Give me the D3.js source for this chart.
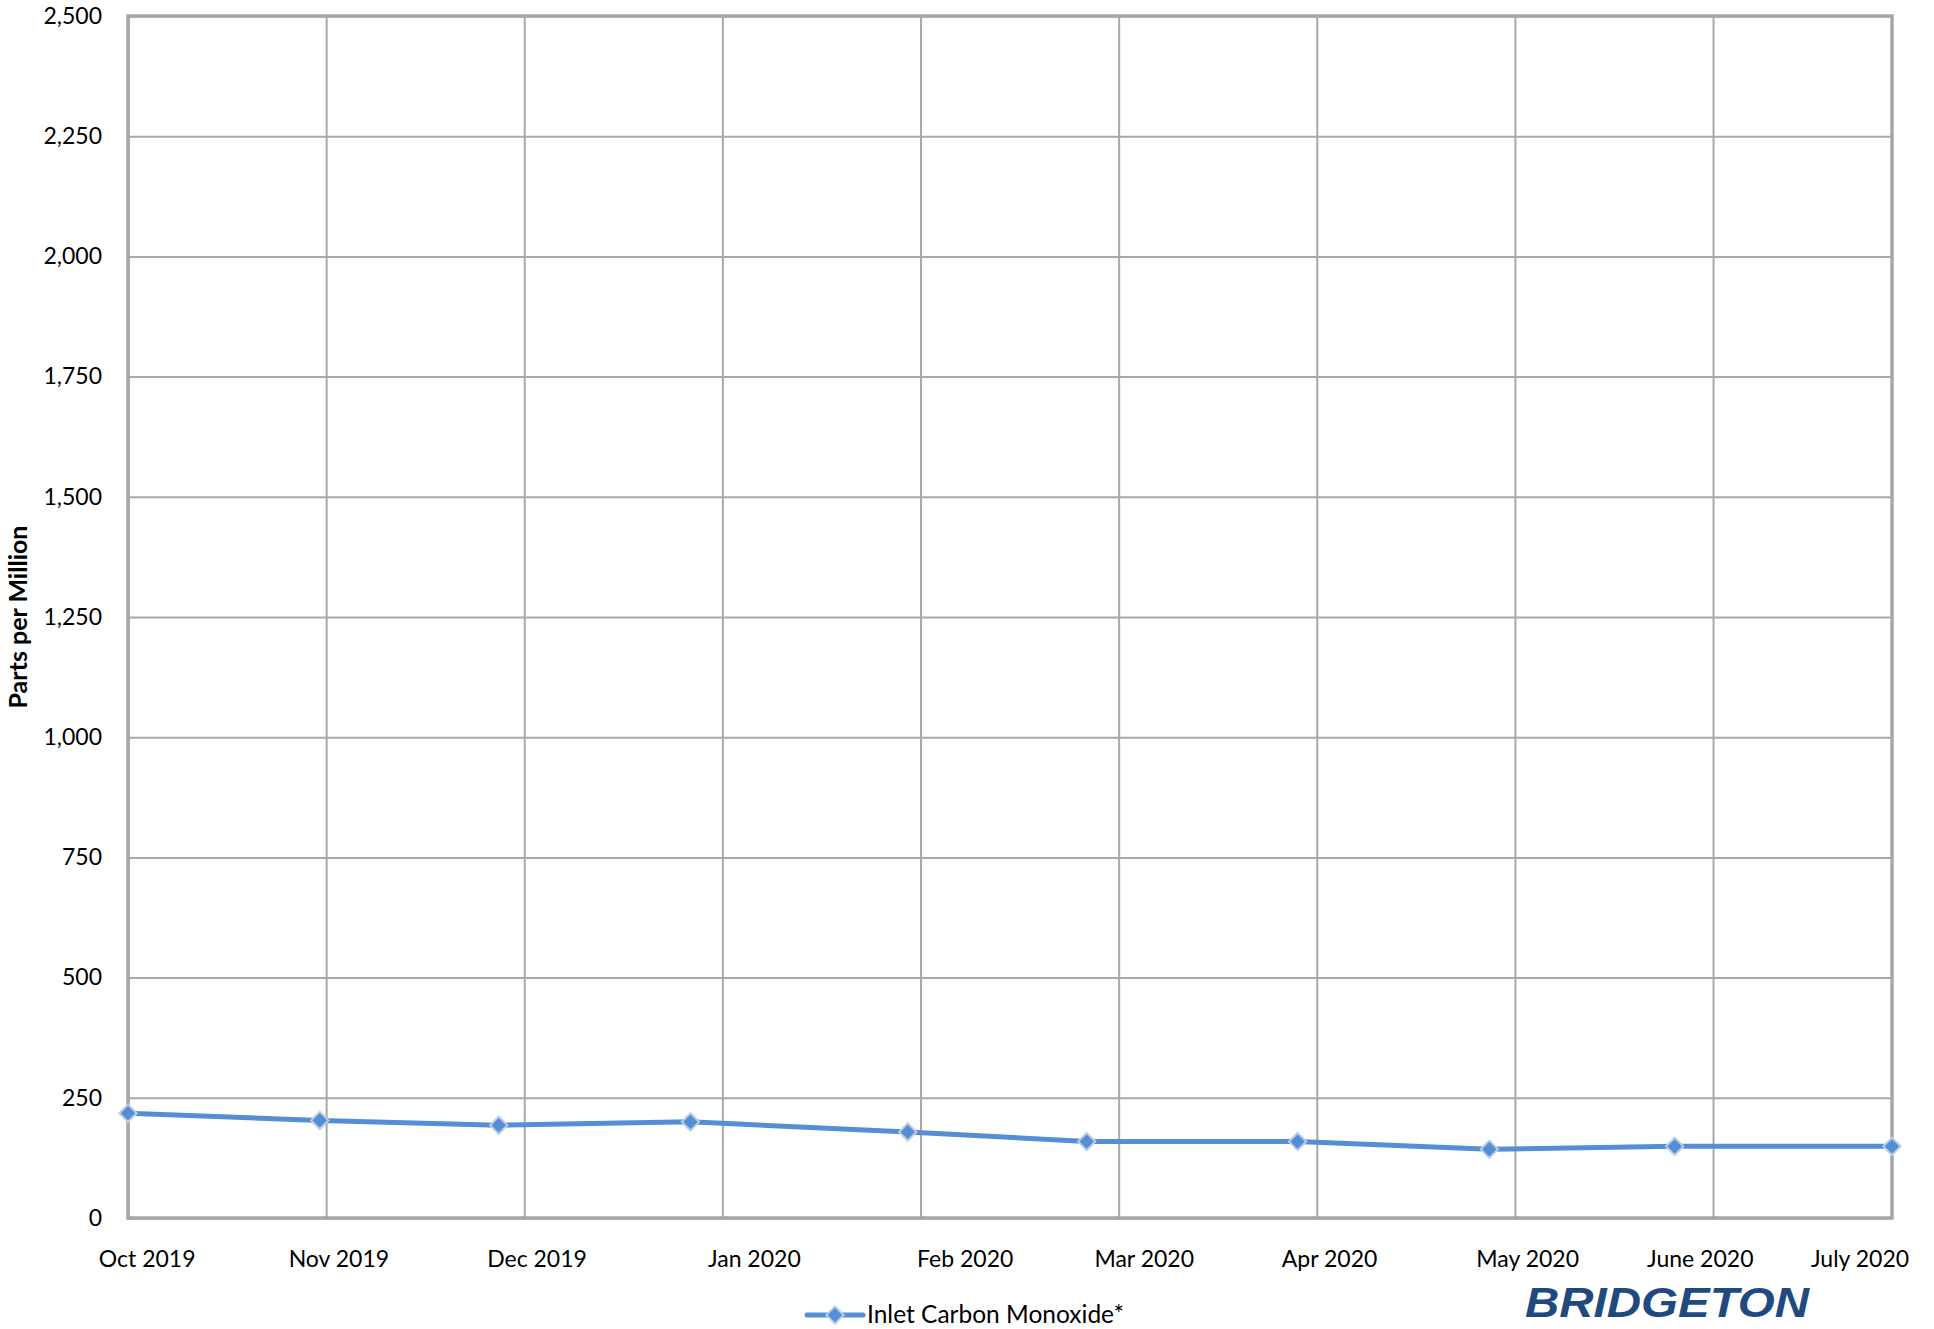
<!DOCTYPE html>
<html>
<head>
<meta charset="utf-8">
<script src="https://cdn.jsdelivr.net/npm/d3@7"></script>
<style>
  body { margin: 0; background: #fff; }
  text { font-family: Lato, "Open Sans", sans-serif; fill: #000; }
</style>
</head>
<body>
<div id="chart"></div>
<script>
/* global d3 */

// Sample dates and readings (ppm)
const sampleDates = ['2019-10-01', '2019-10-31', '2019-11-28', '2019-12-28', '2020-01-31',
  '2020-02-28', '2020-04-01', '2020-05-01', '2020-05-30', '2020-07-03']
const coValues = [218, 203, 193, 200, 179, 159, 159, 143, 149, 149]

// Month labels under the axis and the dates they sit on
const monthLabels = ['Oct 2019', 'Nov 2019', 'Dec 2019', 'Jan 2020', 'Feb 2020',
  'Mar 2020', 'Apr 2020', 'May 2020', 'June 2020', 'July 2020']
const labelDates = ['2019-10-04', '2019-11-03', '2019-12-04', '2020-01-07', '2020-02-09',
  '2020-03-08', '2020-04-06', '2020-05-07', '2020-06-03', '2020-06-28']

const yTicks = [0, 250, 500, 750, 1000, 1250, 1500, 1750, 2000, 2250, 2500]
const gridStepDays = 31
const seriesName = 'Inlet Carbon Monoxide*'

// Our canvas
const width = 1934,
  height = 1329,
  plotLeft = 128,
  plotTop = 16,
  plotRight = 1892,
  plotBottom = 1218

const parse = d3.utcParse('%Y-%m-%d')
const dates = sampleDates.map(parse)
const data = dates.map((d, i) => ({ date: d, value: coValues[i] }))

let svg = d3.select('#chart')
  .append('svg')
  .attr('width', width)
  .attr('height', height)
  .style('background', '#fff')

let x = d3.scaleUtc()
  .domain(d3.extent(dates))
  .range([plotLeft, plotRight])

let y = d3.scaleLinear()
  .domain([0, 2500])
  .range([plotBottom, plotTop])

// vertical gridlines every 31 days from the first sample
let gridDates = d3.range(0, 277, gridStepDays).map(n => d3.utcDay.offset(dates[0], n))

svg.append('g')
  .attr('transform', `translate(0, ${plotBottom})`)
  .call(d3.axisBottom(x).tickValues(gridDates).tickSize(-(plotBottom - plotTop)).tickFormat(''))
  .call(g => g.select('.domain').remove())
  .call(g => g.selectAll('line').attr('stroke', '#a8a8a8').attr('stroke-width', 2))

// horizontal gridlines and y labels
svg.append('g')
  .attr('transform', `translate(${plotLeft}, 0)`)
  .call(d3.axisLeft(y).tickValues(yTicks).tickSize(-(plotRight - plotLeft)).tickPadding(26)
    .tickFormat(d3.format(',')))
  .call(g => g.select('.domain').remove())
  .call(g => g.selectAll('line').attr('stroke', '#a8a8a8').attr('stroke-width', 2))
  .call(g => g.selectAll('text').style('font-size', '23px').attr('fill', '#000'))

// frame
svg.append('rect')
  .attr('x', plotLeft)
  .attr('y', plotTop)
  .attr('width', plotRight - plotLeft)
  .attr('height', plotBottom - plotTop)
  .attr('fill', 'none')
  .attr('stroke', '#a6a6a6')
  .attr('stroke-width', 3.5)

// x labels
svg.append('g')
  .selectAll('text')
  .data(monthLabels)
  .enter()
  .append('text')
  .attr('x', (d, i) => x(parse(labelDates[i])))
  .attr('y', 1267)
  .attr('text-anchor', 'middle')
  .style('font-size', '23px')
  .text(d => d)

// y title
svg.append('text')
  .attr('transform', `translate(27, ${(plotTop + plotBottom) / 2}) rotate(-90)`)
  .attr('text-anchor', 'middle')
  .style('font-size', '25px')
  .style('font-weight', 'bold')
  .text('Parts per Million')

// the series
let line = d3.line()
  .x(d => x(d.date))
  .y(d => y(d.value))

svg.append('path')
  .datum(data)
  .attr('fill', 'none')
  .attr('stroke', '#558ed5')
  .attr('stroke-width', 5)
  .attr('stroke-linejoin', 'round')
  .attr('d', line)

let diamond = d3.symbol().type(d3.symbolDiamond2).size(190)

svg.selectAll('.marker')
  .data(data)
  .enter()
  .append('path')
  .attr('class', 'marker')
  .attr('transform', d => `translate(${x(d.date)}, ${y(d.value)})`)
  .attr('d', diamond)
  .attr('fill', '#558ed5')
  .attr('stroke', '#b9cde5')
  .attr('stroke-width', 2)

// legend
let legend = svg.append('g').attr('transform', 'translate(807, 1315)')
legend.append('line')
  .attr('x1', 0).attr('x2', 56)
  .attr('stroke', '#558ed5')
  .attr('stroke-width', 5)
  .attr('stroke-linecap', 'round')
legend.append('path')
  .attr('transform', 'translate(28, 0)')
  .attr('d', diamond)
  .attr('fill', '#558ed5')
  .attr('stroke', '#b9cde5')
  .attr('stroke-width', 2)
legend.append('text')
  .attr('x', 60)
  .attr('y', 8)
  .style('font-size', '24.5px')
  .text(seriesName)

// logo text
svg.append('text')
  .attr('x', 1525)
  .attr('y', 1317)
  .attr('textLength', 284)
  .attr('lengthAdjust', 'spacingAndGlyphs')
  .style('font-family', '"Liberation Sans", Arial, sans-serif')
  .style('font-size', '43px')
  .style('font-weight', 'bold')
  .style('font-style', 'italic')
  .style('fill', '#1f4a7f')
  .text('BRIDGETON')
</script>
</body>
</html>
